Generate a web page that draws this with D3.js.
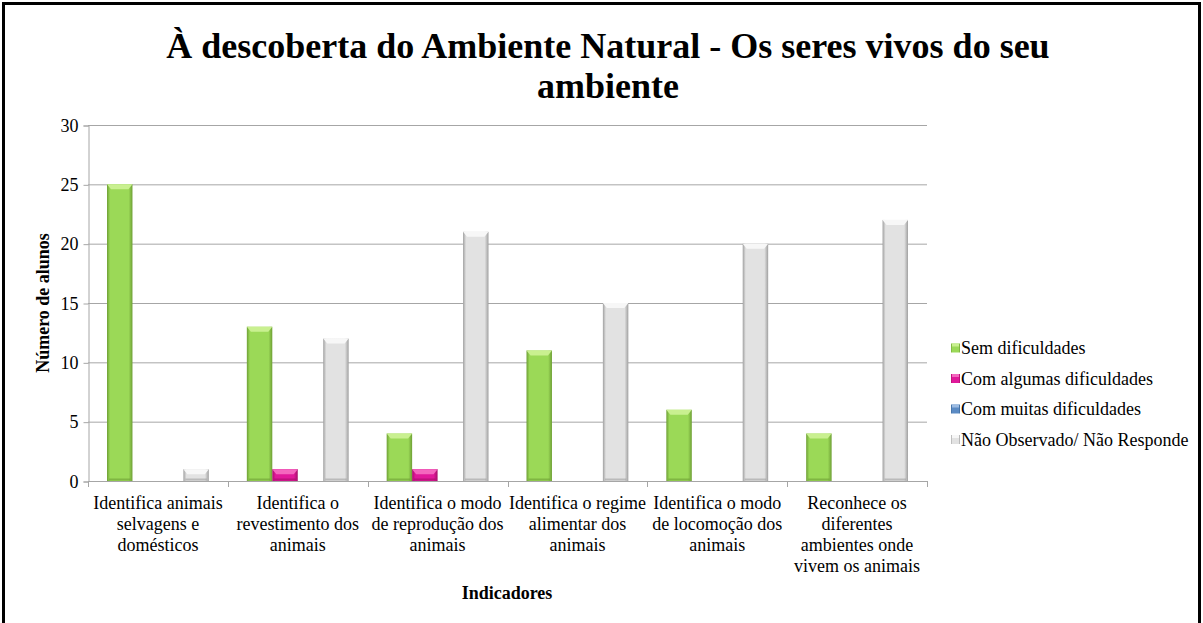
<!DOCTYPE html>
<html>
<head>
<meta charset="utf-8">
<script src="https://cdn.jsdelivr.net/npm/d3@7"></script>
<style>
  body { margin:0; background:#fff; }
  svg, svg text { font-family:'Liberation Serif','DejaVu Serif',serif !important; }
</style>
</head>
<body>
<div id="chart"></div>
<script>
// categories (each label split in the lines shown under the axis)
let categories = ["c1","c2","c3","c4","c5","c6"];
let categoryLines = [
	["Identifica animais","selvagens e","domésticos"],
	["Identifica o","revestimento dos","animais"],
	["Identifica o modo","de reprodução dos","animais"],
	["Identifica o regime","alimentar dos","animais"],
	["Identifica o modo","de locomoção dos","animais"],
	["Reconhece os","diferentes","ambientes onde","vivem os animais"]
];
let seriesNames = ["Sem dificuldades","Com algumas dificuldades","Com muitas dificuldades","Não Observado/ Não Responde"];
let semDificuldades = [25,13,4,11,6,4];
let comAlgumas = [0,1,1,0,0,0];
let comMuitas = [0,0,0,0,0,0];
let naoObservado = [1,12,21,15,20,22];
let yTicks = [0,5,10,15,20,25,30];

let values = [semDificuldades, comAlgumas, comMuitas, naoObservado];

// colours: [edge, main, top]
let palette = [
	["#6E9F35","#9BD957","#C9F090"],
	["#A50F68","#E0189A","#F466BE"],
	["#3A6796","#5B8BC4","#9DBCE2"],
	["#A0A0A0","#E2E2E2","#F7F7F7"]
];

let FONT = "'Liberation Serif','DejaVu Serif',serif";

let width = 1203, height = 623;
let svg = d3.select("#chart").append("svg").attr("width", width).attr("height", height)
	.attr("font-family", FONT);

// frame
svg.append("rect").attr("x",3.5).attr("y",3.5).attr("width",1196).attr("height",660)
	.attr("fill","none").attr("stroke","#000").attr("stroke-width",3);

// title
svg.append("text").attr("x",608).attr("y",58).attr("text-anchor","middle")
	.style("font-size","36px").style("font-weight","bold")
	.text("À descoberta do Ambiente Natural - Os seres vivos do seu");
svg.append("text").attr("x",608).attr("y",98).attr("text-anchor","middle")
	.style("font-size","36px").style("font-weight","bold")
	.text("ambiente");

let x = d3.scaleBand().domain(categories).range([88,927]).paddingInner(0).paddingOuter(0);
let y = d3.scaleLinear().domain([0,30]).range([481,125]);
let xs = d3.scaleBand().domain(seriesNames).range([19, x.bandwidth()-19]);

// gradients
let defs = svg.append("defs");
palette.forEach(function(p,i){
	let g = defs.append("linearGradient").attr("id","grad"+i).attr("x1","0").attr("x2","1").attr("y1","0").attr("y2","0");
	g.append("stop").attr("offset","0").attr("stop-color",p[0]);
	g.append("stop").attr("offset","0.12").attr("stop-color",p[1]);
	g.append("stop").attr("offset","0.85").attr("stop-color",p[1]);
	g.append("stop").attr("offset","1").attr("stop-color",p[0]);
});

// gridlines
svg.append("g").selectAll("line").data(yTicks.filter(d=>d>0)).join("line")
	.attr("x1",88).attr("x2",927)
	.attr("y1",d=>y(d)+0.5).attr("y2",d=>y(d)+0.5)
	.attr("stroke","#a6a6a6").attr("stroke-width",1);

// y axis
let yAxis = svg.append("g").attr("transform","translate(88.5,0.5)")
	.call(d3.axisLeft(y).tickValues(yTicks).tickSize(5).tickPadding(5));
yAxis.attr("font-family",FONT);
yAxis.select(".domain").attr("stroke","#a6a6a6");
yAxis.selectAll(".tick line").attr("stroke","#a6a6a6");
yAxis.selectAll(".tick text").style("font-size","18px").attr("fill","#000");

svg.append("text").attr("transform","translate(49,303) rotate(-90)")
	.attr("text-anchor","middle").style("font-size","18px").style("font-weight","bold")
	.text("Número de alunos");

// bars
seriesNames.forEach(function(s,si){
	let layer = svg.append("g");
	let data = categories.map((c,ci)=>({c:c, v:values[si][ci]})).filter(d=>d.v>0);
	let bw = xs.bandwidth();
	layer.selectAll("rect").data(data).join("rect")
		.attr("x",d=>x(d.c)+xs(s))
		.attr("y",d=>y(d.v))
		.attr("width",bw)
		.attr("height",d=>y(0)-y(d.v))
		.attr("fill","url(#grad"+si+")");
	// top bevel
	layer.selectAll("polygon").data(data).join("polygon")
		.attr("points",function(d){
			let x0 = x(d.c)+xs(s), x1 = x0+bw, t = y(d.v), b = Math.min(t+5, y(0));
			return [[x0,t],[x1,t],[x1-4,b],[x0+4,b]].map(p=>p.join(",")).join(" ");
		})
		.attr("fill",palette[si][2]);
	// bottom shade
	layer.selectAll("line").data(data).join("line")
		.attr("x1",d=>x(d.c)+xs(s)+2).attr("x2",d=>x(d.c)+xs(s)+bw-2)
		.attr("y1",y(0)-1.5).attr("y2",y(0)-1.5)
		.attr("stroke",palette[si][0]).attr("stroke-width",2).attr("opacity",0.6);
});

// x axis
svg.append("line").attr("x1",88).attr("x2",927).attr("y1",481.5).attr("y2",481.5).attr("stroke","#a6a6a6");
let bounds = categories.map(c=>x(c)).concat([x.range()[1]]);
svg.append("g").selectAll("line").data(bounds).join("line")
	.attr("x1",d=>Math.round(d)+0.5).attr("x2",d=>Math.round(d)+0.5)
	.attr("y1",481).attr("y2",487).attr("stroke","#a6a6a6");

let labels = svg.append("g").selectAll("text").data(categories).join("text")
	.attr("text-anchor","middle").style("font-size","18px");
labels.each(function(c,i){
	let t = d3.select(this);
	categoryLines[i].forEach(function(line,li){
		t.append("tspan").attr("x",x(c)+x.bandwidth()/2).attr("y",509+li*21).text(line);
	});
});

svg.append("text").attr("x",507).attr("y",599).attr("text-anchor","middle")
	.style("font-size","18px").style("font-weight","bold").text("Indicadores");

// legend
let legend = svg.append("g").selectAll("g").data(seriesNames).join("g")
	.attr("transform",(d,i)=>"translate(951,"+(348+i*30.5)+")");
legend.append("rect").attr("x",0).attr("y",-4.5).attr("width",9).attr("height",9)
	.attr("fill",(d,i)=>"url(#grad"+i+")");
legend.append("rect").attr("x",1).attr("y",-4.5).attr("width",7).attr("height",3)
	.attr("fill",(d,i)=>palette[i][2]);
legend.append("text").attr("x",10).attr("y",6).style("font-size","18px").text(d=>d);
</script>
</body>
</html>
